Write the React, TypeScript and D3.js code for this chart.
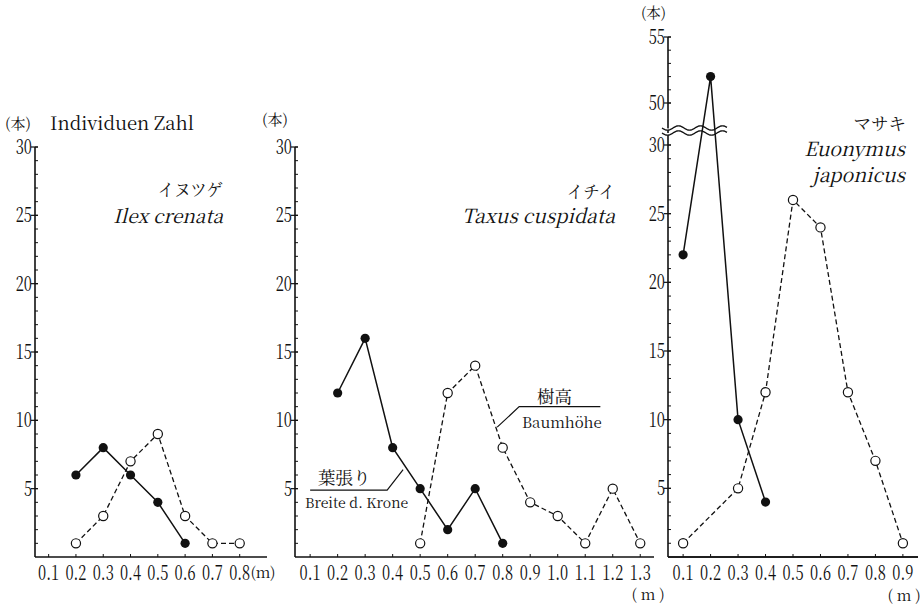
import React from "react";
import * as d3 from "d3";

// Individuen Zahl (本) against size class (m)
// filled = Breite d. Krone (葉張り), open = Baumhöhe (樹高)
const ilexCrownX = [0.2, 0.3, 0.4, 0.5, 0.6];
const ilexCrownN = [6, 8, 6, 4, 1];
const ilexHeightX = [0.2, 0.3, 0.4, 0.5, 0.6, 0.7, 0.8];
const ilexHeightN = [1, 3, 7, 9, 3, 1, 1];

const taxusCrownX = [0.2, 0.3, 0.4, 0.5, 0.6, 0.7, 0.8];
const taxusCrownN = [12, 16, 8, 5, 2, 5, 1];
const taxusHeightX = [0.5, 0.6, 0.7, 0.8, 0.9, 1.0, 1.1, 1.2, 1.3];
const taxusHeightN = [1, 12, 14, 8, 4, 3, 1, 5, 1];

const euonCrownX = [0.1, 0.2, 0.3, 0.4];
const euonCrownN = [22, 52, 10, 4];
const euonHeightX = [0.1, 0.3, 0.4, 0.5, 0.6, 0.7, 0.8, 0.9];
const euonHeightN = [1, 5, 12, 26, 24, 12, 7, 1];

const ticks1 = [0.1, 0.2, 0.3, 0.4, 0.5, 0.6, 0.7, 0.8];
const ticks2 = [0.1, 0.2, 0.3, 0.4, 0.5, 0.6, 0.7, 0.8, 0.9, 1.0, 1.1, 1.2, 1.3];
const ticks3 = [0.1, 0.2, 0.3, 0.4, 0.5, 0.6, 0.7, 0.8, 0.9];
const yLabels = [5, 10, 15, 20, 25, 30];
const yLabelsHigh = [50, 55];

const serif = "'Noto Serif CJK JP', 'Noto Serif', 'DejaVu Serif', 'Liberation Serif', Tinos, Georgia, serif";
const cjk = "'Noto Serif CJK JP', 'Noto Sans CJK JP', 'Noto Sans CJK SC', sans-serif";
const fmt = d3.format(".1f");
const BASE = 557;

const zip = (xs: number[], ys: number[]) => xs.map((x, i) => [x, ys[i]] as [number, number]);

function Num({ x, y, t, anchor }: { x: number; y: number; t: string; anchor: string }) {
  return (
    <text
      transform={`translate(${x},${y}) scale(0.72,1)`}
      textAnchor={anchor}
      style={{ fontFamily: serif, fontSize: 20.5 }}
      fill="#111"
    >
      {t}
    </text>
  );
}

function Panel({ x0, x1, xd, ticks, y, yTop, minor, labels, crown, height, children }: any) {
  const x = d3.scaleLinear().domain(xd).range([x0, x1]);
  const line = d3
    .line<[number, number]>()
    .x((d) => x(d[0]))
    .y((d) => y(d[1]));
  return (
    <g>
      {/* axes */}
      <line x1={x0} x2={x0} y1={yTop} y2={BASE} stroke="#111" strokeWidth={1.6} />
      <line x1={x0} x2={x1} y1={BASE} y2={BASE} stroke="#111" strokeWidth={1.6} />
      {minor.map((v: number) => (
        <line key={"m" + v} x1={x0} x2={x0 + 3} y1={y(v)} y2={y(v)} stroke="#111" strokeWidth={1} />
      ))}
      {labels.map((v: number) => (
        <g key={"l" + v}>
          <line x1={x0 - 4} x2={x0 + 3} y1={y(v)} y2={y(v)} stroke="#111" strokeWidth={1.2} />
          <Num x={x0 - 3} y={y(v) + 7} t={String(v)} anchor="end" />
        </g>
      ))}
      {ticks.map((v: number) => (
        <g key={"x" + v}>
          <line x1={x(v)} x2={x(v)} y1={BASE} y2={BASE - 3} stroke="#111" strokeWidth={1} />
          <Num x={x(v)} y={BASE + 23} t={fmt(v)} anchor="middle" />
        </g>
      ))}
      {children && children(x)}
      {/* series */}
      <path d={line(height) || ""} fill="none" stroke="#111" strokeWidth={1.3} strokeDasharray="5,3" />
      <path d={line(crown) || ""} fill="none" stroke="#111" strokeWidth={1.5} />
      {height.map((d: [number, number], i: number) => (
        <circle key={"h" + i} cx={x(d[0])} cy={y(d[1])} r={4.6} fill="#fff" stroke="#111" strokeWidth={1.2} />
      ))}
      {crown.map((d: [number, number], i: number) => (
        <circle key={"c" + i} cx={x(d[0])} cy={y(d[1])} r={4.6} fill="#111" />
      ))}
    </g>
  );
}

const T = ({ x, y, size, it, anchor, jp, children }: any) => (
  <text
    x={x}
    y={y}
    textAnchor={anchor || "start"}
    style={{ fontFamily: jp ? cjk : serif, fontSize: size, fontStyle: it ? "italic" : "normal" }}
    fill="#111"
  >
    {children}
  </text>
);

export default function App() {
  const yLow = d3.scaleLinear().domain([0, 30]).range([BASE, 147]);
  const yBreak = d3.scaleLinear().domain([0, 30, 50, 55]).range([BASE, 145, 103, 37]);
  const minorLow = d3.range(1, 31);
  const minorBreak = d3.range(1, 31).concat(d3.range(50, 56));

  // wavy break marks on the third y axis
  const wave = (yc: number) =>
    d3.line<number>().x((d) => d).y((d) => yc + 2.2 * Math.sin(((d - 662) / 22) * 2 * Math.PI))(
      d3.range(662, 728, 1)
    ) || "";

  return (
    <div style={{ position: "absolute", left: 0, top: 0 }}>
      <svg width={924} height={605} style={{ display: "block", background: "#fff" }}>
        <rect width={924} height={605} fill="#fff" />

        {/* panel 1: イヌツゲ */}
        <Panel
          x0={35}
          x1={267}
          xd={[0.05, 0.9]}
          ticks={ticks1}
          y={yLow}
          yTop={147}
          minor={minorLow}
          labels={yLabels}
          crown={zip(ilexCrownX, ilexCrownN)}
          height={zip(ilexHeightX, ilexHeightN)}
        />
        <T x={5} y={129} size={15} jp>(本)</T>
        <T x={50} y={130} size={18.5}>Individuen Zahl</T>
        <T x={223} y={196} size={16.5} anchor="end" jp>イヌツゲ</T>
        <T x={223} y={223} size={19} anchor="end" it>Ilex crenata</T>
        <T x={263} y={578} size={15} anchor="middle">(m)</T>

        {/* panel 2: イチイ */}
        <Panel
          x0={295}
          x1={654}
          xd={[0.045, 1.35]}
          ticks={ticks2}
          y={yLow}
          yTop={147}
          minor={minorLow}
          labels={yLabels}
          crown={zip(taxusCrownX, taxusCrownN)}
          height={zip(taxusHeightX, taxusHeightN)}
        >
          {(x: any) => (
            <g>
              <path
                d={`M${x(0.78)},${yLow(9.5)} L${x(0.86)},${yLow(11)} H${x(1.155)}`}
                fill="none"
                stroke="#111"
                strokeWidth={1.2}
              />
              <path
                d={`M${x(0.438)},${yLow(6.4)} L${x(0.38)},${yLow(4.9)} H${x(0.1)}`}
                fill="none"
                stroke="#111"
                strokeWidth={1.2}
              />
            </g>
          )}
        </Panel>
        <T x={537} y={403} size={17.5} jp>樹高</T>
        <T x={522} y={428} size={15}>Baumhöhe</T>
        <T x={318} y={484} size={17.5} jp>葉張り</T>
        <T x={305} y={508} size={14}>Breite d. Krone</T>
        <T x={262} y={125} size={15} jp>(本)</T>
        <T x={615} y={198} size={16.5} anchor="end" jp>イチイ</T>
        <T x={615} y={223} size={19.5} anchor="end" it>Taxus cuspidata</T>
        <T x={648} y={600} size={15} anchor="middle">( m )</T>

        {/* panel 3: マサキ */}
        <Panel
          x0={668}
          x1={918}
          xd={[0.045, 0.955]}
          ticks={ticks3}
          y={yBreak}
          yTop={37}
          minor={minorBreak}
          labels={yLabels.concat(yLabelsHigh)}
          crown={[]}
          height={zip(euonHeightX, euonHeightN)}
        >
          {() => (
            <g>
              <path d={`${wave(128)} L727,133 ${wave(133).replace("M", "L")}`} fill="#fff" stroke="none" />
              <path d={wave(128)} fill="none" stroke="#111" strokeWidth={1.3} />
              <path d={wave(133)} fill="none" stroke="#111" strokeWidth={1.3} />
            </g>
          )}
        </Panel>
        <Panel
          x0={668}
          x1={918}
          xd={[0.045, 0.955]}
          ticks={[]}
          y={yBreak}
          yTop={BASE}
          minor={[]}
          labels={[]}
          crown={zip(euonCrownX, euonCrownN)}
          height={[]}
        />
        <T x={641} y={18} size={14.5} jp>(本)</T>
        <T x={906} y={130} size={17.5} anchor="end" jp>マサキ</T>
        <T x={905} y={156} size={19.5} anchor="end" it>Euonymus</T>
        <T x={905} y={182} size={19.5} anchor="end" it>japonicus</T>
        <T x={904} y={601} size={15} anchor="middle">( m )</T>
      </svg>
    </div>
  );
}
